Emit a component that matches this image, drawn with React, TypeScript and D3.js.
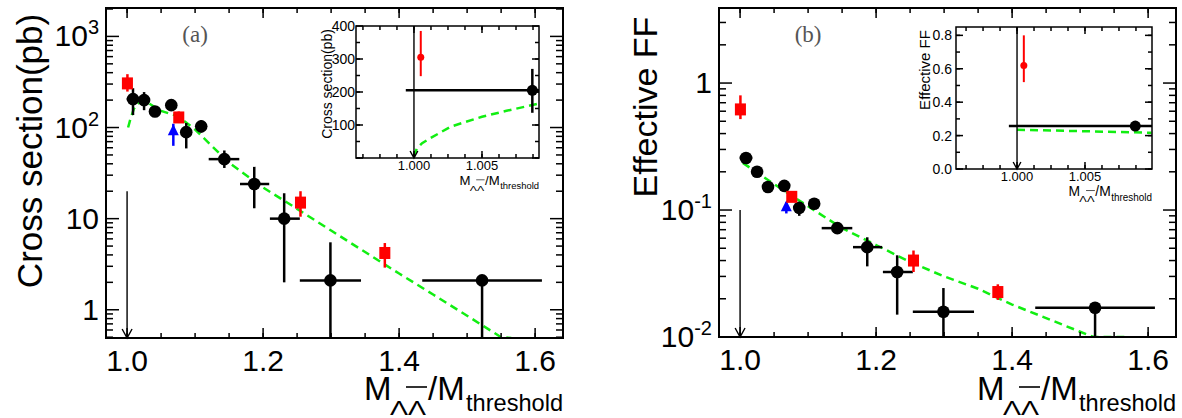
import React from "react";
import * as d3 from "d3";

const FONT = "'Liberation Sans', Arial, Helvetica, sans-serif";
const SERIF = "'Liberation Serif', 'Times New Roman', serif";
const RED = "#ff0000";
const BLUE = "#0000ff";
const GREEN = "#11ee11";

// ---------------- data ----------------
// black points: bin centres and bin edges (shared by both panels)
const binX = [1.0087, 1.025, 1.041, 1.065, 1.087, 1.109, 1.143, 1.187, 1.231, 1.299, 1.522];
const binXLo = [0.9994, 1.017, 1.033, 1.057, 1.079, 1.101, 1.12, 1.166, 1.21, 1.254, 1.434];
const binXHi = [1.018, 1.033, 1.049, 1.073, 1.095, 1.117, 1.165, 1.209, 1.254, 1.344, 1.61];

// (a) cross section (pb)
const xsY = [205, 200, 150, 176, 89, 103, 45, 24, 10, 2.1, 2.1];
const xsYLo = [137, 155, 137, 160, 59, 88, 36, 13, 2.0, 0.3, 0.3];
const xsYHi = [270, 245, 165, 195, 112, 120, 56, 37, 19, 5.5, 2.1];

// red squares and blue triangle
const refX = [1.0005, 1.076, 1.255, 1.379];
const xsRefY = [305, 129, 15, 4.2];
const xsRefLo = [248, 112, 10.5, 2.9];
const xsRefHi = [385, 150, 20, 5.4];

const triX = [1.068];
const xsTriY = [93];
const xsTriLo = [63];
const xsTriHi = [110];

// green dashed curve (a)
const xsFitX = [1.0015, 1.005, 1.01, 1.015, 1.02, 1.03, 1.05, 1.075, 1.1, 1.15, 1.2, 1.25, 1.3, 1.35, 1.4, 1.45, 1.5, 1.55, 1.565];
const xsFitY = [100, 125, 160, 182, 193, 188, 152, 133, 95, 41, 22, 12.8, 7.4, 4.3, 2.5, 1.47, 0.86, 0.5, 0.49];

// inset (a) curve close to threshold
const xsInFitX = [1.0, 1.0002, 1.0006, 1.0012, 1.0027, 1.005, 1.0068, 1.0092];
const xsInFitY = [5, 28, 45, 60, 95, 125, 143, 165];

// (b) effective form factor
const ffY = [0.257, 0.2, 0.152, 0.155, 0.104, 0.112, 0.072, 0.051, 0.0325, 0.0158, 0.017];
const ffYLo = [0.237, 0.185, 0.142, 0.145, 0.09, 0.104, 0.066, 0.036, 0.015, 0.005, 0.005];
const ffYHi = [0.277, 0.215, 0.162, 0.165, 0.115, 0.12, 0.078, 0.061, 0.044, 0.0243, 0.017];

const ffRefY = [0.62, 0.127, 0.04, 0.0226];
const ffRefLo = [0.52, 0.118, 0.0325, 0.0196];
const ffRefHi = [0.8, 0.137, 0.048, 0.026];

const ffTriY = [0.107];
const ffTriLo = [0.094];
const ffTriHi = [0.115];

const ffFitX = [1.004, 1.05, 1.1, 1.15, 1.2, 1.25, 1.3, 1.35, 1.4, 1.45, 1.5, 1.52, 1.565];
const ffFitY = [0.235, 0.16, 0.107, 0.072, 0.053, 0.039, 0.03, 0.024, 0.018, 0.0141, 0.011, 0.01, 0.01];

const ffInFitX = [1.0, 1.005, 1.0099];
const ffInFitY = [0.235, 0.226, 0.217];

// tick labels
const mainXTicks = [1.0, 1.2, 1.4, 1.6];
const insetXTicks = [1.0, 1.005];
const xsInYTicks = [0, 100, 200, 300, 400];
const ffInYTicks = [0, 0.2, 0.4, 0.6, 0.8];

type Box = { l: number; t: number; r: number; b: number };
type Sc = (v: number) => number;

const isPow10 = (v: number) => Math.abs(Math.log10(v) - Math.round(Math.log10(v))) < 1e-9;

function LogLabel({ v, x, y }: { v: number; x: number; y: number }) {
  const p = Math.round(Math.log10(v));
  if (p === 0) return <text x={x} y={y} textAnchor="end" fontSize={30}>1</text>;
  if (p === 1) return <text x={x} y={y} textAnchor="end" fontSize={30}>10</text>;
  return (
    <text x={x} y={y} textAnchor="end" fontSize={30}>
      10<tspan dy={-12} fontSize={20}>{p}</tspan>
    </text>
  );
}

function Frame(props: {
  box: Box; xs: Sc; ys: Sc;
  xMaj: number[]; xMin: number[]; yMaj: number[]; yMin: number[];
  tk: [number, number, number, number]; lw: number;
}) {
  const { box, xs, ys, xMaj, xMin, yMaj, yMin, tk, lw } = props;
  const { l, t, r, b } = box;
  const xt = (v: number, len: number, k: string) => (
    <g key={k}>
      <line x1={xs(v)} x2={xs(v)} y1={b} y2={b - len} />
      <line x1={xs(v)} x2={xs(v)} y1={t} y2={t + len} />
    </g>
  );
  const yt = (v: number, len: number, k: string) => (
    <g key={k}>
      <line x1={l} x2={l + len} y1={ys(v)} y2={ys(v)} />
      <line x1={r} x2={r - len} y1={ys(v)} y2={ys(v)} />
    </g>
  );
  return (
    <g stroke="#000" fill="none">
      <g strokeWidth={1.5}>
        {xMin.map((v, i) => xt(v, tk[1], "xm" + i))}
        {xMaj.map((v, i) => xt(v, tk[0], "xM" + i))}
        {yMin.map((v, i) => yt(v, tk[3], "ym" + i))}
        {yMaj.map((v, i) => yt(v, tk[2], "yM" + i))}
      </g>
      <rect x={l} y={t} width={r - l} height={b - t} strokeWidth={lw} />
    </g>
  );
}

function ErrPoints(props: {
  xs: Sc; ys: Sc; x: number[]; y: number[]; lo: number[]; hi: number[];
  xlo?: number[]; xhi?: number[]; color: string; w: number; shape: "circle" | "square" | "tri" | "dot"; size: number;
}) {
  const { xs, ys, x, y, lo, hi, xlo, xhi, color, w, shape, size } = props;
  return (
    <g>
      {x.map((xv, i) => {
        const cx = xs(xv);
        const cy = ys(y[i]);
        let mark: React.ReactNode;
        if (shape === "circle" || shape === "dot") mark = <circle cx={cx} cy={cy} r={size} fill={color} />;
        else if (shape === "square")
          mark = <rect x={cx - size * 0.46} y={cy - size / 2} width={size * 0.92} height={size} fill={color} />;
        else
          mark = <path d={`M${cx},${cy - size * 0.55}L${cx + size / 2},${cy + size * 0.45}L${cx - size / 2},${cy + size * 0.45}Z`} fill={color} />;
        return (
          <g key={i}>
            <line x1={cx} x2={cx} y1={ys(lo[i])} y2={ys(hi[i])} stroke={color} strokeWidth={w} />
            {xlo && xhi && (
              <line x1={xs(xlo[i])} x2={xs(xhi[i])} y1={cy} y2={cy} stroke={color} strokeWidth={w} />
            )}
            {mark}
          </g>
        );
      })}
    </g>
  );
}

function Arrow({ x, y1, y2, head }: { x: number; y1: number; y2: number; head: number }) {
  return (
    <g stroke="#000" strokeWidth={1.4} fill="none">
      <line x1={x} x2={x} y1={y1} y2={y2} />
      <path d={`M${x - head * 0.55},${y2 - head}L${x},${y2}L${x + head * 0.55},${y2 - head}`} />
    </g>
  );
}

// M_{ΛΛ̄}/M_threshold, drawn relative to its right end / main baseline
function MassTitle({ x, y, s }: { x: number; y: number; s: number }) {
  return (
    <g transform={`translate(${x},${y}) scale(${s})`} fill="#000">
      <text x={-199} y={0} fontSize={33}>M</text>
      <text x={-173} y={15} fontSize={20} textLength={36} lengthAdjust="spacingAndGlyphs">ΛΛ</text>
      <line x1={-157} x2={-136} y1={-13} y2={-13} stroke="#000" strokeWidth={1.6} />
      <text x={-135} y={0} fontSize={33}>/M</text>
      <text x={-97} y={11} fontSize={24} textLength={97} lengthAdjust="spacingAndGlyphs">threshold</text>
    </g>
  );
}

function MainPanel(props: {
  id: string; box: Box; yDom: [number, number];
  y: number[]; yLo: number[]; yHi: number[];
  refY: number[]; refLo: number[]; refHi: number[];
  triY: number[]; triLo: number[]; triHi: number[];
  fitX: number[]; fitY: number[]; arrowTop: number;
  tag: string; ylab: string; ylabX: number; ylabY: number; ylabSize: number;
}) {
  const { id, box, yDom } = props;
  const { l, t, r, b } = box;
  const xs = d3.scaleLinear().domain([0.969, 1.641]).range([l, r]);
  const ys = d3.scaleLog().domain(yDom).range([b, t]);
  const all = ys.ticks();
  const yMaj = all.filter(isPow10);
  const yMin = all.filter((v) => !isPow10(v));
  const xMin = d3.ticks(0.969, 1.641, 14);
  const fit = d3.line<number>().x((d) => xs(d)).y((d, i) => ys(props.fitY[i]));
  return (
    <g>
      <rect x={l} y={t} width={r - l} height={b - t} fill="#fff" />
      <clipPath id={id}>
        <rect x={l} y={t} width={r - l} height={b - t} />
      </clipPath>
      <g clipPath={`url(#${id})`}>
        <path d={fit(props.fitX) || ""} fill="none" stroke={GREEN} strokeWidth={2.5} strokeDasharray="8 5" />
        <ErrPoints xs={xs} ys={ys} x={binX} y={props.y} lo={props.yLo} hi={props.yHi} xlo={binXLo} xhi={binXHi}
          color="#000" w={2.5} shape="circle" size={6.3} />
        <ErrPoints xs={xs} ys={ys} x={triX} y={props.triY} lo={props.triLo} hi={props.triHi}
          color={BLUE} w={2.5} shape="tri" size={11} />
        <ErrPoints xs={xs} ys={ys} x={refX} y={props.refY} lo={props.refLo} hi={props.refHi}
          color={RED} w={2.5} shape="square" size={12} />
      </g>
      <Arrow x={xs(1.0)} y1={ys(props.arrowTop)} y2={b} head={9} />
      <Frame box={box} xs={xs} ys={ys} xMaj={mainXTicks} xMin={xMin} yMaj={yMaj} yMin={yMin} tk={[10, 5, 13, 7]} lw={2} />
      {mainXTicks.map((v) => (
        <text key={v} x={xs(v)} y={b + 33} textAnchor="middle" fontSize={30}>{d3.format(".1f")(v)}</text>
      ))}
      {yMaj.map((v) => <LogLabel key={v} v={v} x={l - 7} y={ys(v) + 10} />)}
      <text x={xs(1.1)} y={t + 34} textAnchor="middle" fontSize={23} fontFamily={SERIF} fill="#555">{props.tag}</text>
      <text transform={`translate(${props.ylabX},${props.ylabY}) rotate(-90)`} textAnchor="middle" fontSize={props.ylabSize}>
        {props.ylab}
      </text>
      <MassTitle x={r} y={400} s={1} />
    </g>
  );
}

function InsetPanel(props: {
  id: string; box: Box; xDom: [number, number]; yDom: [number, number];
  yTicks: number[]; yMinStep: number; yFmt: (v: number) => string;
  black: [number, number, number]; red: [number, number, number];
  fitX: number[]; fitY: number[];
  ylab: string; ylabX: number; ylabY: number; ylabSize: number;
  labGap: number; xLabDy: number; titleY: number; titleS: number;
}) {
  const { id, box, xDom, yDom } = props;
  const { l, t, r, b } = box;
  const xs = d3.scaleLinear().domain(xDom).range([l, r]);
  const ys = d3.scaleLinear().domain(yDom).range([b, t]);
  const xMin = d3.range(0.99625, xDom[1], 0.00125).filter((v) => v > xDom[0]);
  const yMin = d3.range(0, yDom[1], props.yMinStep);
  const fit = d3.line<number>().x((d) => xs(d)).y((d, i) => ys(props.fitY[i]));
  return (
    <g>
      <rect x={l} y={t} width={r - l} height={b - t} fill="#fff" />
      <clipPath id={id}>
        <rect x={l} y={t} width={r - l} height={b - t} />
      </clipPath>
      <g clipPath={`url(#${id})`}>
        <path d={fit(props.fitX) || ""} fill="none" stroke={GREEN} strokeWidth={2.5} strokeDasharray="8 5" />
        <ErrPoints xs={xs} ys={ys} x={[binX[0]]} y={[props.black[0]]} lo={[props.black[1]]} hi={[props.black[2]]}
          xlo={[binXLo[0]]} xhi={[binXHi[0]]} color="#000" w={2.5} shape="circle" size={5.5} />
        <ErrPoints xs={xs} ys={ys} x={[refX[0]]} y={[props.red[0]]} lo={[props.red[1]]} hi={[props.red[2]]}
          color={RED} w={2} shape="dot" size={3.5} />
      </g>
      <Arrow x={xs(1.0)} y1={t} y2={b} head={7} />
      <Frame box={box} xs={xs} ys={ys} xMaj={insetXTicks} xMin={xMin} yMaj={props.yTicks} yMin={yMin} tk={[7, 4, 7, 4]} lw={1.5} />
      {insetXTicks.map((v) => (
        <text key={v} x={xs(v)} y={b + props.xLabDy} textAnchor="middle" fontSize={13}>{d3.format(".3f")(v)}</text>
      ))}
      {props.yTicks.map((v) => (
        <text key={v} x={l - props.labGap} y={ys(v) + 5} textAnchor="end" fontSize={14}>{props.yFmt(v)}</text>
      ))}
      <text transform={`translate(${props.ylabX},${props.ylabY}) rotate(-90)`} textAnchor="middle" fontSize={props.ylabSize}>
        {props.ylab}
      </text>
      <MassTitle x={r} y={props.titleY} s={props.titleS} />
    </g>
  );
}

export default function App() {
  return (
    <svg width={1182} height={418} style={{ position: "absolute", left: 0, top: 0 }} fontFamily={FONT}>
      <rect width={1182} height={418} fill="#fff" />
      <MainPanel id="clipA" box={{ l: 106, t: 8, r: 563, b: 338 }} yDom={[0.49, 2050]}
        y={xsY} yLo={xsYLo} yHi={xsYHi} refY={xsRefY} refLo={xsRefLo} refHi={xsRefHi}
        triY={xsTriY} triLo={xsTriLo} triHi={xsTriHi} fitX={xsFitX} fitY={xsFitY} arrowTop={20}
        tag="(a)" ylab="Cross section(pb)" ylabX={42} ylabY={151} ylabSize={35} />
      <InsetPanel id="clipAi" box={{ l: 356, t: 26, r: 539, b: 158 }} xDom={[0.99574, 1.00919]} yDom={[0, 400]}
        yTicks={xsInYTicks} yMinStep={50} yFmt={(v) => (v === 0 ? "" : String(v))}
        black={[xsY[0], xsYLo[0], xsYHi[0]]} red={[xsRefY[0], xsRefLo[0], xsRefHi[0]]}
        fitX={xsInFitX} fitY={xsInFitY} ylab="Cross section(pb)" ylabX={332} ylabY={84} ylabSize={14}
        labGap={1} xLabDy={12} titleY={185} titleS={0.4} />
      <MainPanel id="clipB" box={{ l: 719, t: 8, r: 1176, b: 337 }} yDom={[0.01, 3.9]}
        y={ffY} yLo={ffYLo} yHi={ffYHi} refY={ffRefY} refLo={ffRefLo} refHi={ffRefHi}
        triY={ffTriY} triLo={ffTriLo} triHi={ffTriHi} fitX={ffFitX} fitY={ffFitY} arrowTop={0.1}
        tag="(b)" ylab="Effective FF" ylabX={657} ylabY={107} ylabSize={34} />
      <InsetPanel id="clipBi" box={{ l: 956, t: 27, r: 1152, b: 169 }} xDom={[0.99551, 1.00993]} yDom={[0, 0.85]}
        yTicks={ffInYTicks} yMinStep={0.1} yFmt={(v) => d3.format(".1f")(v)}
        black={[ffY[0], ffYLo[0], ffYHi[0]]} red={[ffRefY[0], ffRefLo[0], ffRefHi[0]]}
        fitX={ffInFitX} fitY={ffInFitY} ylab="Effective FF" ylabX={930} ylabY={70} ylabSize={15}
        labGap={4} xLabDy={12} titleY={196} titleS={0.42} />
    </svg>
  );
}
